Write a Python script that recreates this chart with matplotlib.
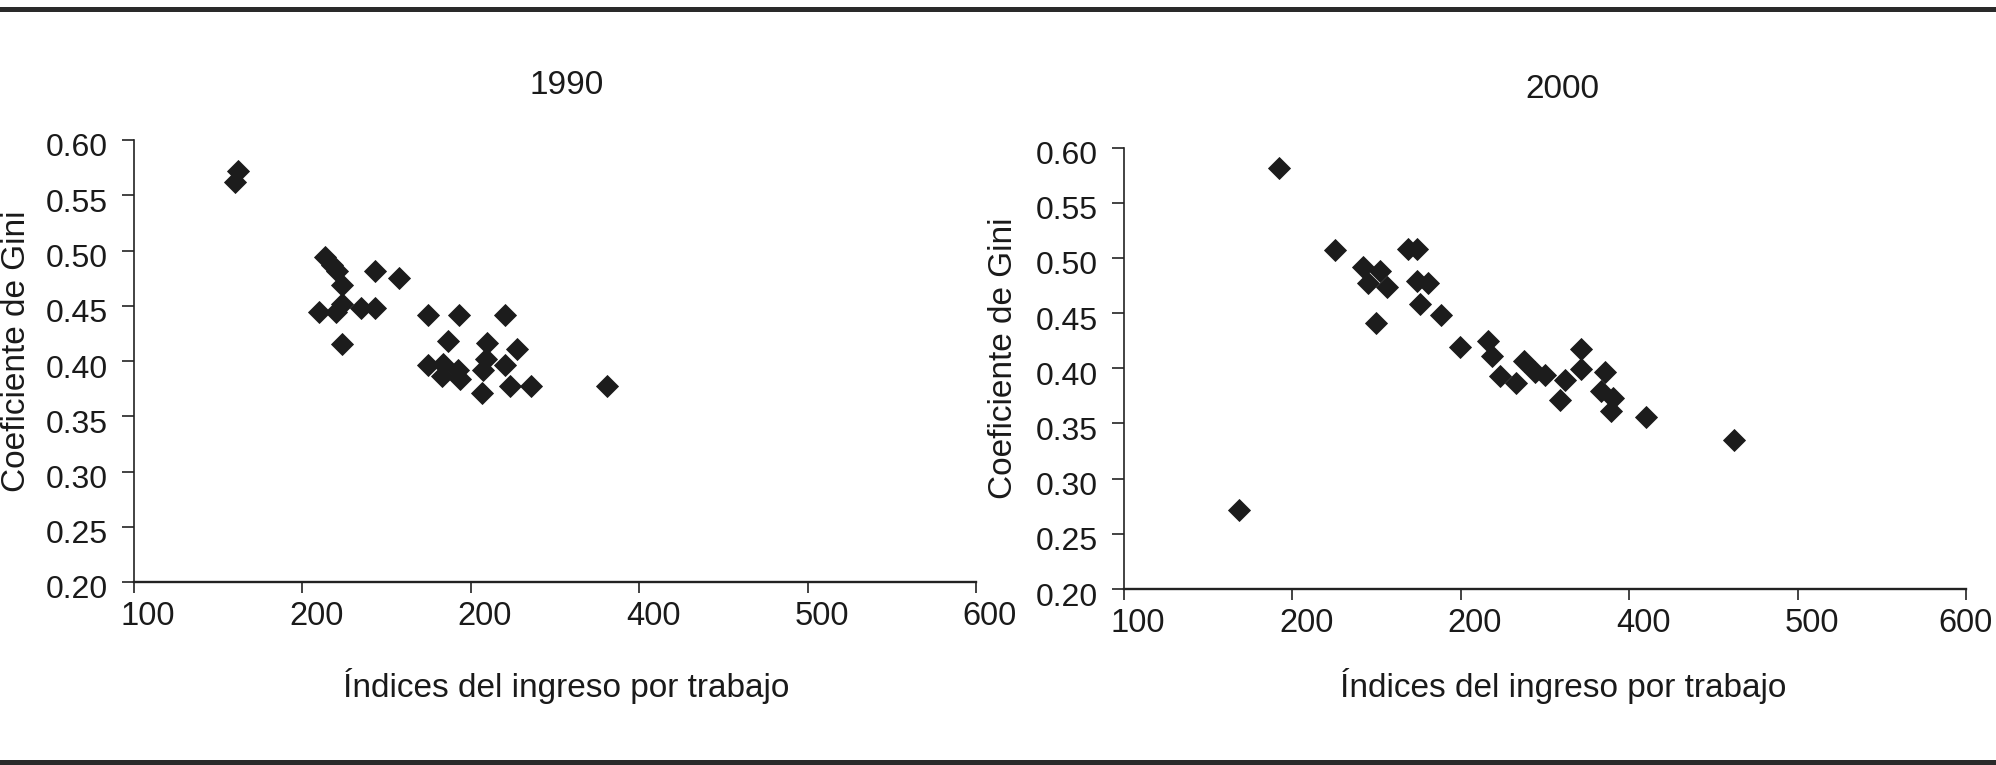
import numpy as np
import matplotlib
matplotlib.use("Agg")
import matplotlib.pyplot as plt
import matplotlib.transforms as mtransforms
from matplotlib.lines import Line2D

plt.rcParams['font.family'] = ['Liberation Sans', 'DejaVu Sans']

# 1990 panel: ingreso por trabajo index vs Gini
x_1990 = [161.9, 159.9, 213.4, 217.4, 220.4, 223.3, 223.3, 210.0, 220.0, 234.8,
          243.3, 243.1, 257.2, 223.3, 274.8, 293.2, 320.3, 286.3, 309.4, 327.6,
          309.0, 320.3, 274.8, 283.7, 282.8, 292.6, 293.6, 307.4, 306.4, 323.3,
          335.7, 380.7]
gini_1990 = [0.572, 0.562, 0.494, 0.487, 0.481, 0.469, 0.452, 0.444, 0.444, 0.448,
             0.448, 0.481, 0.475, 0.415, 0.442, 0.442, 0.442, 0.418, 0.416, 0.411,
             0.402, 0.396, 0.396, 0.397, 0.386, 0.392, 0.384, 0.392, 0.371, 0.377,
             0.377, 0.377]

# 2000 panel
x_2000 = [192.2, 225.4, 242.0, 251.9, 245.0, 255.9, 249.6, 268.4, 274.1, 274.1,
          280.6, 275.7, 288.0, 299.4, 316.2, 318.8, 323.1, 332.5, 337.4, 343.9,
          349.9, 361.7, 358.8, 371.2, 371.2, 385.5, 383.5, 390.4, 389.4, 409.8,
          462.1, 168.2]
gini_2000 = [0.581, 0.507, 0.492, 0.488, 0.477, 0.474, 0.441, 0.508, 0.508, 0.479,
             0.477, 0.458, 0.448, 0.419, 0.425, 0.411, 0.393, 0.387, 0.407, 0.397,
             0.394, 0.389, 0.371, 0.417, 0.399, 0.397, 0.379, 0.373, 0.361, 0.356,
             0.335, 0.272]

xticks = [100, 200, 300, 400, 500, 600]
# the original figure prints "200" twice on the x axis
xtick_labels = ['100', '200', '200', '400', '500', '600']
yticks = [0.20, 0.25, 0.30, 0.35, 0.40, 0.45, 0.50, 0.55, 0.60]

W, H = 1996, 765
fig = plt.figure(figsize=(W / 100, H / 100), dpi=100)

ax1 = fig.add_axes([134 / W, 1 - 582 / H, 842 / W, 442 / H])
ax2 = fig.add_axes([1124 / W, 1 - 589 / H, 842 / W, 441.5 / H])

mark_col = '#1c1c1c'
line_col = '#222222'
txt_col = '#1a1a1a'

for ax, xs, ys in [(ax1, x_1990, gini_1990), (ax2, x_2000, gini_2000)]:
    ax.plot(xs, ys, linestyle='none', marker='D', ms=11.5, mew=0.6,
            color=mark_col, mec=mark_col, clip_on=False)
    ax.set_xlim(100, 600)
    ax.set_ylim(0.20, 0.60)
    ax.set_xticks(xticks)
    ax.set_xticklabels(xtick_labels)
    ax.set_yticks(yticks)
    ax.set_yticklabels(['%.2f' % v for v in yticks])
    for s in ['top', 'right']:
        ax.spines[s].set_visible(False)
    ax.spines['left'].set_linewidth(1.2)
    ax.spines['left'].set_color(line_col)
    ax.spines['bottom'].set_linewidth(1.7)
    ax.spines['bottom'].set_color(line_col)
    ax.tick_params(axis='y', direction='out', length=9, width=1.2, color=line_col,
                   labelsize=23, pad=10, labelcolor=txt_col)
    ax.tick_params(axis='x', direction='out', length=8, width=1.2, color=line_col,
                   labelsize=23.5, pad=6, labelcolor=txt_col)
    ax.set_facecolor('none')
    # Excel-like offsets of the tick labels
    dy = mtransforms.ScaledTranslation(0, -5 / 100, fig.dpi_scale_trans)
    for lab in ax.get_yticklabels():
        lab.set_transform(lab.get_transform() + dy)

# x tick labels sit a bit to the right of their ticks
for ax in [ax1, ax2]:
    labs = ax.get_xticklabels()
    for i, lab in enumerate(labs):
        shift = 14
        if ax is ax2 and i == len(labs) - 1:
            shift = 0  # keep the last one inside the figure
        dx = mtransforms.ScaledTranslation(shift / 100, 0, fig.dpi_scale_trans)
        lab.set_transform(lab.get_transform() + dx)

# titles
fig.text(567 / W, 1 - 85 / H, '1990', ha='center', va='center', fontsize=24, color=txt_col)
fig.text(1562 / W, 1 - 89 / H, '2000', ha='center', va='center', fontsize=24, color=txt_col)

# axis labels
fig.text(566 / W, 1 - 686 / H, 'Índices del ingreso por trabajo', ha='center', va='center',
         fontsize=24, color=txt_col)
fig.text(1563 / W, 1 - 686 / H, 'Índices del ingreso por trabajo', ha='center', va='center',
         fontsize=24, color=txt_col)
fig.text(17 / W, 1 - 351 / H, 'Coeficiente de Gini', rotation=90, ha='center', va='center',
         fontsize=24, color=txt_col)
fig.text(1003 / W, 1 - 358 / H, 'Coeficiente de Gini', rotation=90, ha='center', va='center',
         fontsize=24, color=txt_col)

# rules at top and bottom of the figure
fig.add_artist(Line2D([0, 1], [1 - 8.5 / H, 1 - 8.5 / H], transform=fig.transFigure,
                      color='#2a2a2a', lw=3.6))
fig.add_artist(Line2D([0, 1], [1 - 762 / H, 1 - 762 / H], transform=fig.transFigure,
                      color='#2a2a2a', lw=3.6))

fig.savefig('out.png', dpi=100)
